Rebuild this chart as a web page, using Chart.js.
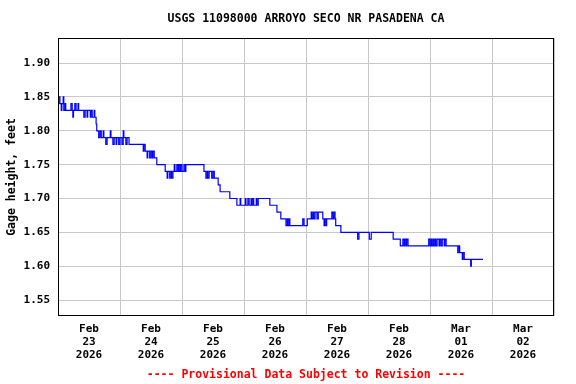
<!DOCTYPE html>
<html>
<head>
<meta charset="utf-8">
<script src="https://cdn.jsdelivr.net/npm/chart.js@4.4.1/dist/chart.umd.min.js"></script>
<style>
  html, body { margin: 0; padding: 0; background: #ffffff; }
  #box { width: 576px; height: 384px; }
</style>
</head>
<body>
<div id="box"><canvas id="gageChart"></canvas></div>
<script>
// horas desde 23 fev 00:00 (inicio de cada degrau) e altura em pes
const hours = [
  0, 0.25, 0.75, 1.25, 1.5, 2, 2.25, 2.75, 3, 5, 5.5, 5.75, 6, 6.5, 7, 7.75, 8,
  10, 10.5, 11.25, 11.5, 12.5, 12.75, 13.25, 14, 14.25, 14.75, 15, 15.75, 16.25,
  16.75, 17.5, 17.75, 18.5, 19, 20.25, 20.5, 21.25, 21.75, 22.5, 22.75, 23.5, 24,
  24.75, 25.25, 25.5, 26.25, 26.75, 27.5, 33, 33.25, 33.75, 34.5, 34.75, 35.5, 36,
  36.5, 36.75, 37.25, 38.25, 41.5, 42.25, 42.5, 43.25, 43.75, 44, 44.5, 45, 45.25,
  46, 46.5, 46.75, 47.25, 47.5, 48, 48.75, 49.25, 49.5, 56.5, 57.25, 57.75, 58,
  58.5, 59.5, 60, 60.5, 62, 62.75, 66.5, 69.25, 70.5, 70.75, 72.5, 72.75, 73.5, 74,
  74.75, 75, 75.5, 75.75, 76.75, 77, 77.5, 82, 84.75, 86.25, 88.25, 88.75, 89,
  89.5, 89.75, 94.75, 95.25, 96.5, 98, 98.25, 98.75, 99, 99.5, 100.25, 100.75,
  102.5, 103, 103.25, 103.75, 104, 106, 106.5, 106.75, 107.25, 107.5, 109.5, 116,
  116.5, 120.5, 121.25, 129.75, 132.5, 133.5, 134, 134.25, 134.75, 135, 135.5,
  143.5, 144, 144.5, 144.75, 145.25, 145.5, 146, 146.25, 146.75, 147.5, 147.75,
  148.25, 148.75, 149.5, 149.75, 150.25, 154.75, 155.25, 155.5, 156.5, 156.75,
  157.25, 159.75, 160, 164.5
];
const heights = [
  1.84, 1.85, 1.84, 1.83, 1.84, 1.85, 1.83, 1.84, 1.83, 1.84, 1.83, 1.82, 1.83, 1.84, 1.83, 1.84, 1.83,
  1.82, 1.83, 1.82, 1.83, 1.82, 1.83, 1.82, 1.83, 1.82, 1.81, 1.80, 1.79, 1.80,
  1.79, 1.80, 1.79, 1.78, 1.79, 1.80, 1.79, 1.78, 1.79, 1.78, 1.79, 1.78, 1.79,
  1.78, 1.80, 1.79, 1.78, 1.79, 1.78, 1.77, 1.78, 1.77, 1.76, 1.77, 1.76, 1.77,
  1.76, 1.77, 1.76, 1.75, 1.74, 1.73, 1.74, 1.73, 1.74, 1.73, 1.74, 1.75, 1.74,
  1.75, 1.74, 1.75, 1.74, 1.75, 1.74, 1.75, 1.74, 1.75, 1.74, 1.73, 1.74, 1.73,
  1.74, 1.73, 1.74, 1.73, 1.72, 1.71, 1.70, 1.69, 1.70, 1.69, 1.70, 1.69, 1.70, 1.69,
  1.70, 1.69, 1.70, 1.69, 1.70, 1.69, 1.70, 1.69, 1.68, 1.67, 1.66, 1.67, 1.66,
  1.67, 1.66, 1.67, 1.66, 1.67, 1.68, 1.67, 1.68, 1.67, 1.68, 1.67, 1.68,
  1.67, 1.66, 1.67, 1.66, 1.67, 1.68, 1.67, 1.68, 1.67, 1.66, 1.65, 1.64,
  1.65, 1.64, 1.65, 1.64, 1.63, 1.64, 1.63, 1.64, 1.63, 1.64, 1.63,
  1.64, 1.63, 1.64, 1.63, 1.64, 1.63, 1.64, 1.63, 1.64, 1.63, 1.64,
  1.63, 1.64, 1.63, 1.64, 1.63, 1.62, 1.63, 1.62, 1.61, 1.62,
  1.61, 1.60, 1.61, 1.61
];

const yTicks = [1.55, 1.60, 1.65, 1.70, 1.75, 1.80, 1.85, 1.90];
const dayLabels = [
  ['Feb', '23', '2026'], ['Feb', '24', '2026'], ['Feb', '25', '2026'], ['Feb', '26', '2026'],
  ['Feb', '27', '2026'], ['Feb', '28', '2026'], ['Mar', '01', '2026'], ['Mar', '02', '2026']
];

const monoFont = 'DejaVu Sans Mono';

// moldura preta em volta da area do grafico
const frame = {
  id: 'frame',
  afterDatasetsDraw(chart) {
    const a = chart.chartArea;
    const c = chart.ctx;
    c.save();
    c.strokeStyle = '#000000';
    c.lineWidth = 1;
    c.strokeRect(a.left + 0.5, a.top + 0.5, a.right - a.left - 1, a.bottom - a.top - 1);
    c.restore();
  }
};

new Chart(document.getElementById('gageChart'), {
  type: 'line',
  data: {
    datasets: [{
      data: hours.map((h, i) => ({ x: h, y: heights[i] })),
      borderColor: '#0000ff',
      borderWidth: 1.2,
      stepped: true,
      pointRadius: 0,
      fill: false
    }]
  },
  plugins: [frame],
  options: {
    responsive: true,
    maintainAspectRatio: false,
    animation: false,
    layout: { padding: { left: 0, right: 22, top: 0, bottom: 0 } },
    plugins: {
      legend: { display: false },
      tooltip: { enabled: false },
      title: {
        display: true,
        fullSize: false,
        text: 'USGS 11098000 ARROYO SECO NR PASADENA CA',
        color: '#000000',
        font: { family: monoFont, size: 11.5, weight: 'bold' },
        padding: { top: 12, bottom: 12.2 }
      },
      subtitle: {
        display: true,
        fullSize: false,
        position: 'bottom',
        text: '---- Provisional Data Subject to Revision ----',
        color: '#ff0000',
        font: { family: monoFont, size: 11.5, weight: 'bold' },
        padding: { top: 5.2, bottom: 2 }
      }
    },
    scales: {
      x: {
        type: 'linear',
        min: 0,
        max: 192,
        afterBuildTicks(scale) {
          const t = [];
          for (let v = 0; v <= 192; v += 12) t.push({ value: v });
          scale.ticks = t;
        },
        afterFit(scale) { scale.height = 47; },
        border: { display: false },
        grid: {
          drawTicks: false,
          color: (ctx) => (ctx.tick && ctx.tick.value % 24 === 0) ? '#c8c8c8' : 'rgba(0,0,0,0)'
        },
        ticks: {
          autoSkip: false,
          maxRotation: 0,
          padding: 7,
          color: '#000000',
          font: { family: monoFont, size: 11, weight: 'bold', lineHeight: '13px' },
          callback: (value) => ((value - 12) % 24 === 0) ? dayLabels[(value - 12) / 24] : ''
        }
      },
      y: {
        min: 1.5265,
        max: 1.937,
        afterBuildTicks(scale) {
          scale.ticks = yTicks.map(v => ({ value: v }));
        },
        afterFit(scale) { scale.width = 58; },
        border: { display: false },
        grid: { drawTicks: false, color: '#c8c8c8' },
        ticks: {
          padding: 8,
          color: '#000000',
          font: { family: monoFont, size: 11, weight: 'bold' },
          callback: (value) => Number(value).toFixed(2)
        },
        title: {
          display: true,
          text: 'Gage height, feet',
          color: '#000000',
          font: { family: monoFont, size: 11.5, weight: 'bold' },
          padding: { top: 5, bottom: 0 }
        }
      }
    }
  }
});
</script>
</body>
</html>
